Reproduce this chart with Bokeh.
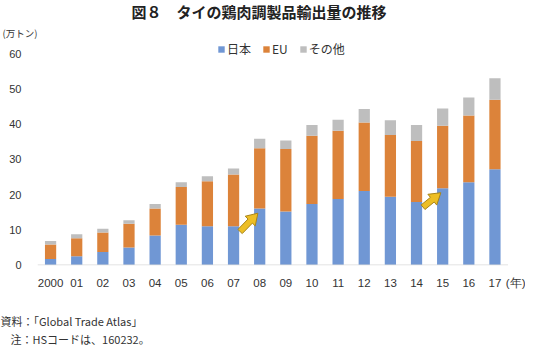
import math
from bokeh.plotting import figure
from bokeh.models import Range1d, FixedTicker, Legend, LegendItem, ColumnDataSource, Title
from bokeh.embed import file_html
from bokeh.resources import INLINE

# ---- data (万トン) ----
years = ["2000", "01", "02", "03", "04", "05", "06", "07", "08", "09",
         "10", "11", "12", "13", "14", "15", "16", "17"]
japan = [1.7, 2.5, 3.7, 5.0, 8.4, 11.4, 11.0, 11.0, 16.0, 15.2,
         17.3, 18.7, 21.0, 19.4, 17.9, 21.8, 23.5, 27.2]
eu = [4.1, 5.1, 5.5, 6.7, 7.6, 10.7, 12.8, 14.7, 17.1, 17.7,
      19.4, 19.4, 19.4, 17.5, 17.3, 17.7, 18.9, 19.7]
other = [1.0, 1.1, 1.1, 1.0, 1.3, 1.4, 1.4, 1.7, 2.7, 2.4,
         3.0, 3.1, 3.9, 4.2, 4.5, 4.9, 5.1, 6.1]
series_names = ["日本", "EU", "その他"]
y_ticks = [0, 10, 20, 30, 40, 50, 60]
year_unit = "(年)"
value_unit = "(万トン)"
title_text = "図８　タイの鶏肉調製品輸出量の推移"
source_text = "資料：「Global Trade Atlas」"
note_text = "注：HSコードは、160232。"
arrow_from = [7, 14]   # arrows from a year's bar towards the next year's bar

colors = ["#7097D4", "#DC833A", "#BEBEBE"]
JP = "Noto Sans CJK JP"
NUM = "Liberation Sans"
TXT = "#333333"

W, H = 525, 346
n = len(years)
left, top, bottom = 37, 40, 79
px_unit = 26.14
sy = 3.54
frame_h = H - top - bottom
y_start = -0.14
y_end = y_start + frame_h / sy
x_end = -0.5 + (W - left) / px_unit

p = figure(width=W, height=H, output_backend="svg", toolbar_location=None,
           x_range=Range1d(-0.5, x_end), y_range=Range1d(y_start, y_end),
           min_border_left=left, min_border_right=0,
           min_border_top=top - 1, min_border_bottom=bottom)
p.outline_line_color = None
p.background_fill_color = "white"
p.border_fill_color = "white"
p.xgrid.visible = False
p.ygrid.visible = False

xs = list(range(n))
src = ColumnDataSource(dict(x=xs, jp=japan, eu=eu, ot=other))
rs = p.vbar_stack(["jp", "eu", "ot"], x="x", width=0.43, source=src,
                  color=colors, line_color=None)

# category baseline (ends with the last category)
p.segment(x0=[-0.5], y0=[0], x1=[n - 0.5], y1=[0], line_color="#D9D9D9", line_width=1)

# x axis: year labels plus the unit label at the right end
unit_pos = -0.5 + (516 - left) / px_unit
p.xaxis.ticker = FixedTicker(ticks=xs + [unit_pos])
overrides = {i: y for i, y in enumerate(years)}
overrides[unit_pos] = year_unit
p.xaxis.major_label_overrides = overrides
p.xaxis.axis_line_color = None
p.xaxis.major_tick_line_color = None
p.xaxis.minor_tick_line_color = None
p.xaxis.major_tick_out = 0
p.xaxis.major_tick_in = 0
p.xaxis.major_label_standoff = 11
p.xaxis.major_label_text_font = NUM
p.xaxis.major_label_text_font_size = "11.5px"
p.xaxis.major_label_text_color = TXT

p.yaxis.ticker = FixedTicker(ticks=y_ticks)
p.yaxis.axis_line_color = None
p.yaxis.major_tick_line_color = None
p.yaxis.minor_tick_line_color = None
p.yaxis.major_tick_out = 0
p.yaxis.major_tick_in = 0
p.yaxis.major_label_standoff = 16
p.yaxis.major_label_text_font = NUM
p.yaxis.major_label_text_font_size = "11px"
p.yaxis.major_label_text_color = TXT

# legend inside the (extended) frame, above the 60 line
legend = Legend(items=[LegendItem(label=series_names[i], renderers=[rs[i]]) for i in range(3)],
                orientation="horizontal", location=(180, frame_h - 19),
                glyph_width=8, glyph_height=8, label_height=12, label_width=10,
                label_standoff=2, spacing=11, padding=0, margin=0,
                border_line_color=None, background_fill_alpha=0,
                label_text_font=JP, label_text_font_size="12px", label_text_color=TXT)
p.add_layout(legend, "center")

# titles above: unit (nearest to frame), then main title
p.add_layout(Title(text=value_unit, text_font=JP, text_font_size="9.5px",
                   text_font_style="normal", text_color=TXT, align="left",
                   offset=2 - left, standoff=0), "above")
p.add_layout(Title(text=title_text, text_font=JP, text_font_size="15px",
                   text_font_style="bold", text_color="#222222", align="left",
                   vertical_align="top", offset=131 - left, standoff=0), "above")

# footers below the axis
p.add_layout(Title(text=" ", text_font=NUM, text_font_size="1px", standoff=16), "below")
p.add_layout(Title(text=source_text, text_font=JP, text_font_size="11px",
                   text_font_style="normal", text_color=TXT, align="left",
                   offset=0 - left, standoff=0), "below")
p.add_layout(Title(text=note_text, text_font=JP, text_font_size="11px",
                   text_font_style="normal", text_color=TXT, align="left",
                   offset=10 - left, standoff=0), "below")

# block arrows (built in pixel space, mapped back to data)
def arrow_poly(x0, y0_, x1, y1, shaft=6.0, head_w=14.0, head_l=11.0):
    X0, Y0, X1, Y1 = x0 * px_unit, y0_ * sy, x1 * px_unit, y1 * sy
    ddx, ddy = X1 - X0, Y1 - Y0
    L = math.hypot(ddx, ddy)
    ux, uy = ddx / L, ddy / L
    nx, ny = -uy, ux
    bx, by = X1 - ux * head_l, Y1 - uy * head_l
    pts = [(X0 + nx * shaft / 2, Y0 + ny * shaft / 2),
           (bx + nx * shaft / 2, by + ny * shaft / 2),
           (bx + nx * head_w / 2, by + ny * head_w / 2),
           (X1, Y1),
           (bx - nx * head_w / 2, by - ny * head_w / 2),
           (bx - nx * shaft / 2, by - ny * shaft / 2),
           (X0 - nx * shaft / 2, Y0 - ny * shaft / 2)]
    return [q[0] / px_unit for q in pts], [q[1] / sy for q in pts]


axs, ays = [], []
for i in arrow_from:
    a_x, a_y = arrow_poly(i + 0.25, japan[i] - 1.5, i + 0.93, japan[i + 1] - 1.3)
    axs.append(a_x)
    ays.append(a_y)
p.patches(axs, ays, fill_color="#EDBE25", line_color="#A88419", line_width=1)

open("out.html", "w").write(file_html(p, INLINE))
